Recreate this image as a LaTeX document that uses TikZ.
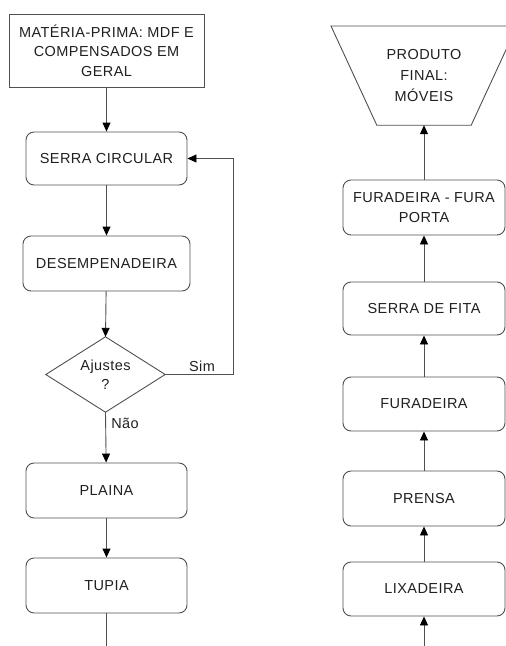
\documentclass[tikz,border=0pt]{standalone}
\usepackage{fontspec}
\setmainfont[LetterSpace=3]{Liberation Sans}
\usetikzlibrary{arrows.meta}
\definecolor{linec}{HTML}{505050}
\definecolor{textc}{HTML}{202020}
\begin{document}
\begin{tikzpicture}[x=1pt,y=-1pt,
  every node/.style={text=textc,font=\fontsize{14.5}{19.5}\selectfont,align=center,inner sep=0pt},
  sqbox/.style={draw=linec,line width=0.9pt,rectangle,minimum width=195pt,minimum height=73pt},
  rbox/.style={draw=linec,line width=0.9pt,rectangle,rounded corners=8pt,minimum width=161pt,minimum height=55pt},
  rboxr/.style={draw=linec,line width=0.9pt,rectangle,rounded corners=8pt,minimum width=162pt,minimum height=55pt},
  conn/.style={draw=linec,line width=0.9pt,-{Triangle[length=9pt,width=8pt,color=black]}},
  plain/.style={draw=linec,line width=0.9pt}]
\useasboundingbox[fill=white] (0,0) rectangle (506,646);
% left column
\node[sqbox] (mp) at (106.5,50.5) {MATÉRIA-PRIMA: MDF E\\COMPENSADOS EM\\GERAL};
\node[rbox,minimum height=53pt] (sc) at (106.5,158.5) {SERRA CIRCULAR};
\node[rbox,minimum width=167pt] (des) at (106.5,263.5) {DESEMPENADEIRA};
\node[minimum width=119pt,minimum height=75pt] (dia) at (105.5,374.5) {Ajustes\\?};
\draw[plain] (dia.north) -- (dia.east) -- (dia.south) -- (dia.west) -- cycle;
\node[rbox] (pla) at (106.5,490.5) {PLAINA};
\node[rbox] (tup) at (106.5,585.5) {TUPIA};
\coordinate (lend) at (106.5,646);
\coordinate (loopa) at (233,374.5);
\coordinate (loopb) at (233,158.5);
\draw[conn] (mp) -- (sc);
\draw[conn] (sc) -- (des);
\draw[conn] (des) -- (dia.north);
\draw[conn] (dia.south) -- (pla);
\draw[conn] (pla) -- (tup);
\draw[plain] (tup) -- (lend);
\draw[conn] (dia.east) -- (loopa) -- (loopb) -- (sc.east);
\node (sim) at (202,366) {Sim};
\node (nao) at (125,423) {Não};
% right column
\node[minimum width=94pt,minimum height=99pt,font=\fontsize{14.5}{21}\selectfont] (trap) at (424,75.5) {PRODUTO\\FINAL:\\MÓVEIS};
\draw[plain] (331,26) -- (517,26) -- (trap.south east) -- (trap.south west) -- cycle;
\node[rboxr] (ffp) at (424,207.5) {FURADEIRA - FURA\\PORTA};
\node[rboxr,minimum height=53pt] (sdf) at (424,308.5) {SERRA DE FITA};
\node[rboxr,minimum height=54pt] (fur) at (424,404) {FURADEIRA};
\node[rboxr] (pre) at (424,498.5) {PRENSA};
\node[rboxr,minimum height=54pt] (lix) at (424,589) {LIXADEIRA};
\coordinate (rstart) at (424,646);
\draw[conn] (rstart) -- (lix);
\draw[conn] (lix) -- (pre);
\draw[conn] (pre) -- (fur);
\draw[conn] (fur) -- (sdf);
\draw[conn] (sdf) -- (ffp);
\draw[conn] (ffp) -- (trap.south);
\end{tikzpicture}
\end{document}
